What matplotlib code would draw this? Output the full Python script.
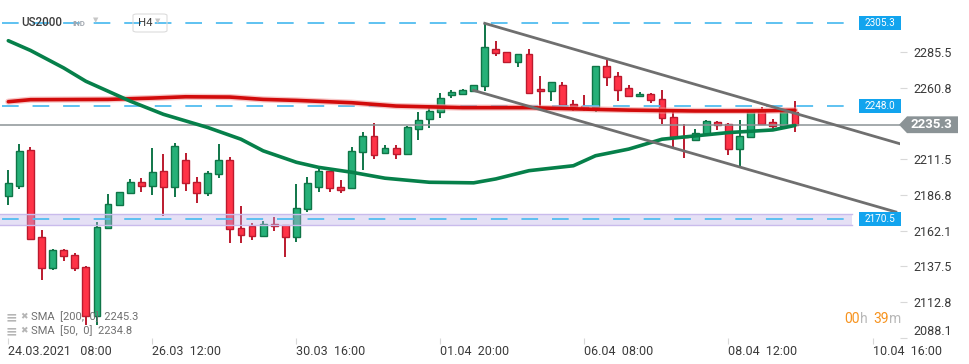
import numpy as np
import matplotlib
matplotlib.use("Agg")
import matplotlib.pyplot as plt
from matplotlib.patches import Rectangle, Polygon, FancyBboxPatch

plt.rcParams['font.family'] = ['Roboto', 'DejaVu Sans']

# --- data (H4 candles) ---
opens = [2186.0, 2193.3, 2217.8, 2157.9, 2136.7, 2149.0, 2145.6, 2137.3, 2103.1, 2164.1,
         2179.9, 2188.1, 2195.6, 2193.3, 2203.2, 2192.2, 2210.7, 2195.6, 2188.1, 2201.1,
         2210.7, 2164.1, 2165.5, 2158.6, 2166.8, 2165.9, 2157.9, 2177.1, 2192.6, 2203.2,
         2192.2, 2191.3, 2216.2, 2227.2, 2215.9, 2219.0, 2215.3, 2232.7, 2239.5, 2244.3,
         2256.0, 2256.7, 2258.7, 2262.2, 2287.6, 2285.5, 2278.6, 2284.1, 2260.1, 2258.7,
         2262.9, 2249.8, 2248.5, 2247.8, 2275.9, 2269.0, 2260.8, 2255.3, 2256.7, 2253.3,
         2240.9, 2227.2, 2224.5, 2229.0, 2237.5, 2236.1, 2218.3, 2226.5, 2245.7, 2237.5,
         2234.7, 2244.3]
highs = [2204.1, 2221.9, 2219.7, 2162.9, 2149.7, 2149.3, 2146.9, 2138.0, 2168.2, 2187.6,
         2189.0, 2197.9, 2198.6, 2219.2, 2215.1, 2222.6, 2215.7, 2199.1, 2203.4, 2221.9,
         2213.0, 2179.2, 2167.7, 2169.1, 2171.6, 2166.2, 2194.5, 2199.1, 2204.8, 2203.6,
         2197.2, 2219.9, 2230.6, 2236.8, 2221.3, 2221.3, 2234.5, 2243.9, 2248.7, 2256.9,
         2259.0, 2260.3, 2263.0, 2305.3, 2293.3, 2285.6, 2284.2, 2287.8, 2268.6, 2265.0,
         2264.9, 2252.6, 2256.0, 2276.0, 2279.9, 2271.8, 2262.9, 2258.1, 2257.4, 2259.0,
         2245.9, 2236.1, 2232.7, 2238.3, 2237.6, 2236.8, 2238.9, 2245.8, 2247.8, 2239.5,
         2244.4, 2251.9]
lows = [2180.1, 2191.1, 2156.0, 2128.2, 2135.0, 2141.2, 2134.3, 2097.1, 2097.3, 2163.1,
        2179.6, 2187.9, 2188.8, 2187.1, 2172.3, 2185.1, 2189.9, 2181.0, 2185.8, 2198.8,
        2153.5, 2153.5, 2155.6, 2157.6, 2161.8, 2143.9, 2154.2, 2174.8, 2189.2, 2189.2,
        2188.3, 2191.0, 2204.3, 2211.6, 2215.3, 2211.6, 2215.0, 2224.9, 2233.1, 2240.0,
        2253.9, 2255.7, 2258.5, 2258.5, 2282.5, 2278.5, 2274.9, 2257.2, 2247.1, 2251.6,
        2249.0, 2244.8, 2244.8, 2244.3, 2262.0, 2251.6, 2254.4, 2255.0, 2250.5, 2236.1,
        2219.7, 2212.1, 2223.8, 2228.9, 2232.0, 2214.2, 2206.6, 2226.4, 2236.0, 2232.0,
        2234.6, 2230.6]
closes = [2195.0, 2216.9, 2156.6, 2136.7, 2149.0, 2144.9, 2136.7, 2103.1, 2164.8, 2180.6,
          2188.8, 2195.6, 2192.9, 2202.5, 2192.2, 2220.3, 2195.0, 2188.1, 2201.8, 2210.7,
          2163.4, 2159.0, 2158.6, 2166.8, 2165.5, 2157.9, 2177.8, 2195.0, 2203.2, 2191.3,
          2190.6, 2216.9, 2227.2, 2214.6, 2219.0, 2215.3, 2233.4, 2238.9, 2244.8, 2253.9,
          2257.6, 2259.4, 2262.9, 2288.9, 2284.8, 2278.6, 2284.1, 2257.4, 2258.7, 2264.9,
          2249.1, 2248.5, 2247.1, 2275.9, 2268.4, 2259.4, 2255.3, 2256.7, 2252.6, 2240.2,
          2226.5, 2226.8, 2229.9, 2238.2, 2235.4, 2218.3, 2227.2, 2245.7, 2236.1, 2234.1,
          2244.3, 2235.3]

# moving averages, sampled at candle indices
sma50_idx = [0, 2, 5, 7, 11, 14, 18, 21, 23, 26, 28, 31, 34, 38, 42, 44, 47, 51, 53, 56,
             59, 62, 65, 69, 71]
sma50 = [2293.3, 2286.6, 2274.5, 2265.3, 2251.6, 2242.5, 2233.4, 2225.3, 2217.3, 2209.4,
         2205.9, 2202.5, 2198.4, 2195.6, 2195.2, 2197.9, 2203.6, 2207.0, 2213.9, 2218.5,
         2225.3, 2227.6, 2229.9, 2231.7, 2234.8]
sma200_idx = [0, 2, 9, 13, 16, 20, 23, 26, 31, 35, 41, 47, 53, 56, 62, 67, 71]
sma200 = [2251.2, 2252.6, 2252.8, 2253.7, 2254.6, 2254.4, 2252.8, 2252.1, 2250.5, 2248.2,
          2247.1, 2247.1, 2245.9, 2245.4, 2244.8, 2244.8, 2245.3]

# channel lines
upper_x, upper_y = [43, 80.6], [2305.3, 2221.9]
lower_x, lower_y = [42, 80.1], [2259.0, 2175.1]

levels = [2305.3, 2248.0]
zone_level = 2170.5
zone_lo, zone_hi = 2166.3, 2173.5
last_price = 2235.3

ytick_vals = [2088.1, 2112.8, 2137.5, 2162.1, 2186.8, 2211.5, 2260.8, 2285.5]
xtick_idx = [0, 13, 26, 39, 52, 65, 78]
xtick_labels = ["24.03.2021   08:00", "26.03  12:00", "30.03  16:00", "01.04  20:00",
                "06.04  08:00", "08.04  12:00", "10.04  16:00"]

# --- figure ---
W, H = 970, 364
fig = plt.figure(figsize=(W / 100, H / 100), dpi=100)
ax = fig.add_axes([0, 26 / H, 900 / W, 338 / H])
ax.set_xlim(-0.75, 80.48)
ax.set_ylim(2089.5, 2321.4)
for s in ax.spines.values():
    s.set_visible(False)

GREEN, GREEN_E = '#26b078', '#0f7547'
RED, RED_E = '#ff3347', '#bb1a2e'

x = np.arange(len(opens))
o = np.array(opens); c = np.array(closes)
up = c >= o
bottom = np.minimum(o, c)
height = np.maximum(np.abs(c - o), 0.5)
ax.vlines(x, lows, highs, colors=np.where(up, GREEN_E, RED_E), lw=1.4, zorder=2)
ax.bar(x, height, bottom=bottom, width=0.62, color=np.where(up, GREEN, RED),
       edgecolor=np.where(up, GREEN_E, RED_E), linewidth=1.0, zorder=3)

yax = ax.get_yaxis_transform()
plt.rcParams['lines.scale_dashes'] = False

# support zone
ax.axhspan(zone_lo, zone_hi, xmin=0, xmax=852 / 900, facecolor=(190/255, 178/255, 232/255),
           alpha=0.4, edgecolor='none', zorder=4)
ax.axhline(zone_lo, xmin=0, xmax=852 / 900, color='#c9bbec', lw=1.0, zorder=4)
ax.axhline(zone_hi, xmin=0, xmax=852 / 900, color='#c9bbec', lw=1.0, zorder=4)

# dashed levels
for lv in levels + [zone_level]:
    ax.axhline(lv, xmin=0.002, xmax=857 / 900, color='#52bdf0', lw=1.3,
               dashes=(12, 10), zorder=5)
    ax.add_patch(Rectangle((859 / 900, lv - 4.9), 42 / 900, 9.8, transform=yax,
                           facecolor='#12a4ee', edgecolor='none', clip_on=False, zorder=9))
    ax.text(880 / 900, lv, f"{lv:.1f}", transform=yax, ha='center', va='center',
            color='white', fontsize=7.2, clip_on=False, zorder=10)

# current price line + tag
ax.axhline(last_price, color='#8b9396', lw=1.1, zorder=4)
tag = [(899 / 900, last_price), (907 / 900, last_price - 5.8), (958 / 900, last_price - 5.8),
       (958 / 900, last_price + 5.8), (907 / 900, last_price + 5.8)]
ax.add_patch(Polygon(tag, closed=True, transform=yax, facecolor='#8b9396',
                     edgecolor='none', clip_on=False, zorder=9))
ax.text(931 / 900, last_price, f"{last_price:.1f}", transform=yax, ha='center', va='center',
        color='white', fontsize=9.5, fontweight='bold', clip_on=False, zorder=10)

# moving averages
ax.plot(sma200_idx, sma200, color='#f3a0a0', lw=4.5, alpha=0.6, zorder=6,
        solid_capstyle='round')
ax.plot(sma200_idx, sma200, color='#d20b0b', lw=2.6, zorder=6, solid_capstyle='round')
ax.plot(sma50_idx, sma50, color='#06804a', lw=2.6, zorder=6, solid_capstyle='round')

# channel
ax.plot(upper_x, upper_y, color='#6f6f6f', lw=2.0, zorder=7)
ax.plot(lower_x, lower_y, color='#6f6f6f', lw=2.0, zorder=7)

# axes ticks
ax.yaxis.tick_right()
ax.set_yticks(ytick_vals)
ax.set_yticklabels([f"{v:.1f}" for v in ytick_vals])
ax.tick_params(axis='y', length=5, color='#d8d8d8', pad=5, labelsize=9,
               labelcolor='#3a3a3a')
ax.get_yticklabels()[0].set_va('bottom')
ax.set_xticks(xtick_idx)
ax.set_xticklabels(xtick_labels)
ax.tick_params(axis='x', length=4, color='#d8d8d8', pad=1, labelsize=9,
               labelcolor='#3a3a3a')
for lab in ax.get_xticklabels():
    lab.set_ha('left')


def px(xp, yp):
    return xp / W, 1 - yp / H


# header
fig.text(*px(21, 23), "US2000", fontsize=8.4, color='#3c3c3c', va='center',
         fontweight='medium', zorder=10)
fig.text(*px(72, 24), "IND", fontsize=5.6, color='#a2a8b0', fontweight='bold',
         va='center')
fig.text(*px(93, 20), "▼", fontsize=5, color='#c6c6c6', va='center',
         family=['DejaVu Sans'])
fig.add_artist(FancyBboxPatch(px(133, 32), 34 / W, 18 / H,
                              boxstyle='round,pad=0,rounding_size=0.004',
                              transform=fig.transFigure, facecolor='none',
                              edgecolor='#dcdcdc', lw=0.8))
fig.text(*px(138, 23), "H4", fontsize=8.2, color='#3a3a3a', va='center')
fig.text(*px(155, 21), "▼", fontsize=5, color='#c6c6c6', va='center',
         family=['DejaVu Sans'])

# indicator legend
for yy, txt in [(317, "SMA  [200,  0]  2245.3"), (331, "SMA  [50,  0]  2234.8")]:
    fig.text(*px(6, yy), "≡", fontsize=10, color='#b5b5b5', va='center',
             family=['DejaVu Sans'], fontweight='bold')
    fig.text(*px(20, yy), "✖", fontsize=6.5, color='#b5b5b5', va='center',
             family=['DejaVu Sans'])
    fig.text(*px(31, yy), txt, fontsize=8, color='#707070', va='center')

# candle timer
fig.text(*px(844, 319), "00", fontsize=10, color='#f7931e', va='center')
fig.text(*px(860, 319), "h", fontsize=10, color='#b8b8b8', va='center')
fig.text(*px(873, 319), "39", fontsize=10, color='#f7931e', va='center')
fig.text(*px(889, 319), "m", fontsize=10, color='#b8b8b8', va='center')

fig.savefig("out.png", dpi=100, facecolor='white')
